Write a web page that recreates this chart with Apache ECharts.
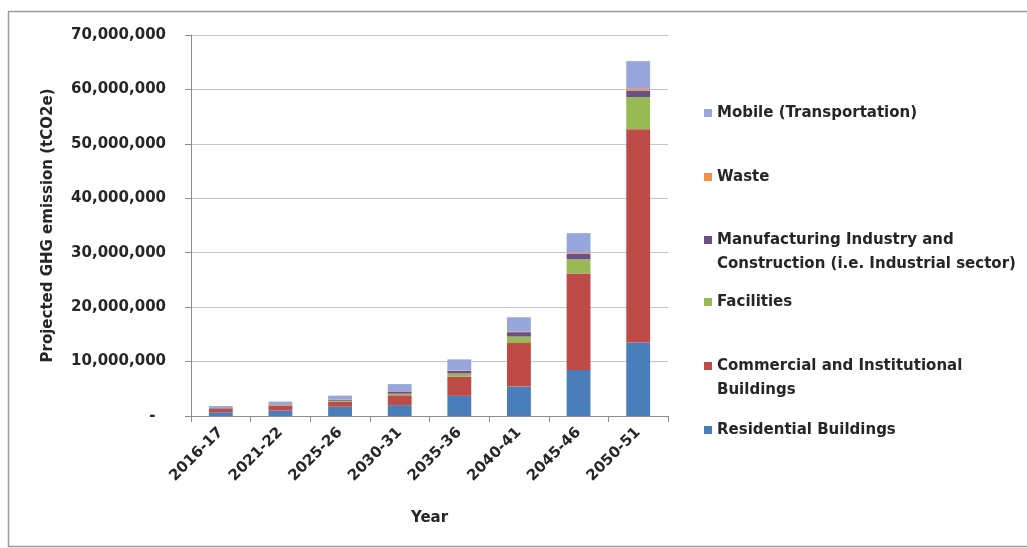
<!DOCTYPE html>
<html>
<head>
<meta charset="utf-8">
<script src="https://cdn.jsdelivr.net/npm/echarts@6/dist/echarts.min.js"></script>
<style>
  html, body { margin: 0; padding: 0; background: #ffffff; overflow: hidden; }
  #chart { width: 1027px; height: 548px; }
</style>
</head>
<body>
<div id="chart"></div>
<script>
// Periods on the category axis
const years = ['2016-17', '2021-22', '2025-26', '2030-31', '2035-36', '2040-41', '2045-46', '2050-51'];

// Projected emissions by sector (tCO2e), stacked bottom to top
const residential   = [700000, 1000000, 1700000, 2000000, 3700000, 5400000, 8450000, 13500000];
const commercial    = [600000, 900000, 900000, 1800000, 3500000, 8000000, 17750000, 39200000];
const facilities    = [60000, 100000, 200000, 300000, 600000, 1200000, 2600000, 5900000];
const manufacturing = [100000, 120000, 200000, 400000, 500000, 800000, 1000000, 1200000];
const waste         = [20000, 30000, 40000, 60000, 100000, 150000, 200000, 300000];
const mobile        = [350000, 500000, 700000, 1300000, 2000000, 2600000, 3600000, 5100000];

// Series names and the lines they are wrapped to in the legend
const seriesNames = [
  'Residential Buildings',
  'Commercial and Institutional Buildings',
  'Facilities',
  'Manufacturing Industry and Construction (i.e. Industrial sector)',
  'Waste',
  'Mobile (Transportation)'
];
const legendLines = [
  ['Residential Buildings'],
  ['Commercial and Institutional', 'Buildings'],
  ['Facilities'],
  ['Manufacturing Industry and', 'Construction (i.e. Industrial sector)'],
  ['Waste'],
  ['Mobile (Transportation)']
];
const seriesValues = [residential, commercial, facilities, manufacturing, waste, mobile];

// Y axis scale
const yMin = 0;
const yMax = 70000000;
const yStep = 10000000;

const colors = ['#4a7ebb', '#be4b48', '#98b954', '#6b5088', '#f0924a', '#97a7dc'];
const FONT = 'DejaVu Sans';
const TEXT = '#262626';

// legend rows: series index and vertical centre of the first text line
const legendRows = [
  { idx: 5, y: 113 },
  { idx: 4, y: 177 },
  { idx: 3, y: 240 },
  { idx: 2, y: 302 },
  { idx: 1, y: 366 },
  { idx: 0, y: 430 }
];

const LINE_H = 24;
const legends = legendRows.map(function (row) {
  const lines = legendLines[row.idx];
  const multi = lines.length > 1;
  return {
    data: [seriesNames[row.idx]],
    left: 704,
    top: multi ? row.y - LINE_H / 2 : row.y - 9,
    orient: 'vertical',
    padding: 0,
    itemWidth: 8,
    itemHeight: multi ? 32 : 8,
    // square marker held at the top so it sits beside the first line
    icon: multi ? 'path://M0,0H8V8H0Z M0,32' : 'rect',
    formatter: function () { return lines.join('\n'); },
    textStyle: {
      fontFamily: FONT,
      fontWeight: 'bold',
      fontSize: 15,
      color: TEXT,
      lineHeight: multi ? LINE_H : 18
    }
  };
});

const chart = echarts.init(document.getElementById('chart'), null, { renderer: 'canvas' });

chart.setOption({
  animation: false,
  backgroundColor: '#ffffff',
  color: colors,
  textStyle: { fontFamily: FONT },
  graphic: [{
    type: 'rect',
    shape: { x: 8.5, y: 11.5, width: 1200, height: 535 },
    style: { fill: 'none', stroke: '#9a9a9a', lineWidth: 1.5 },
    silent: true
  }],
  legend: legends,
  grid: { left: 191, right: 359, top: 35, bottom: 132 },
  xAxis: {
    type: 'category',
    data: years,
    name: 'Year',
    nameLocation: 'middle',
    nameGap: 95,
    nameTextStyle: { fontFamily: FONT, fontWeight: 'bold', fontSize: 15, color: TEXT },
    axisLine: { lineStyle: { color: '#8c8c8c', width: 1 } },
    axisTick: { show: true, length: 6, lineStyle: { color: '#8c8c8c' } },
    axisLabel: {
      rotate: 45,
      margin: 14,
      fontFamily: FONT,
      fontWeight: 'bold',
      fontSize: 15,
      color: TEXT
    }
  },
  yAxis: {
    type: 'value',
    min: yMin,
    max: yMax,
    interval: yStep,
    name: 'Projected GHG emission (tCO2e)',
    nameLocation: 'middle',
    nameGap: 135,
    nameTextStyle: { fontFamily: FONT, fontWeight: 'bold', fontSize: 15, color: TEXT },
    axisLine: { show: true, lineStyle: { color: '#8c8c8c', width: 1 } },
    axisTick: { show: true, length: 6, lineStyle: { color: '#8c8c8c' } },
    splitLine: { show: true, lineStyle: { color: '#c4c4c4', width: 1 } },
    axisLabel: {
      margin: 25,
      fontFamily: FONT,
      fontWeight: 'bold',
      fontSize: 15,
      color: TEXT,
      formatter: function (v) {
        if (v === 0) return '-\u00a0\u00a0';
        return v.toLocaleString('en-US');
      }
    }
  },
  series: seriesValues.map(function (vals, i) {
    return {
      name: seriesNames[i],
      type: 'bar',
      stack: 'total',
      barWidth: '40%',
      data: vals,
      itemStyle: { color: colors[i] }
    };
  })
});
</script>
</body>
</html>
